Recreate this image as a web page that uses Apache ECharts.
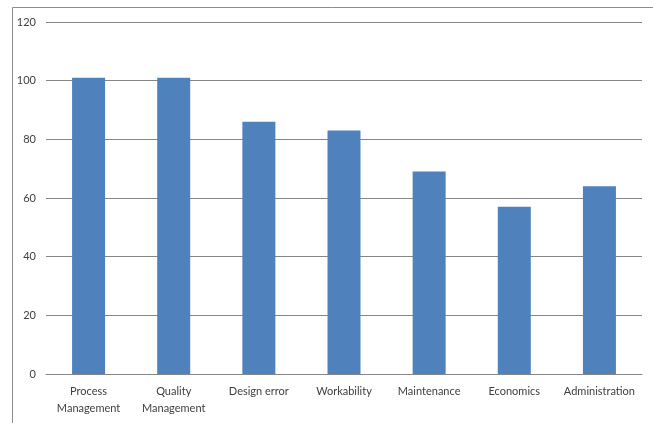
<!DOCTYPE html>
<html><head><meta charset="utf-8">
<script src="https://cdn.jsdelivr.net/npm/echarts@6/dist/echarts.min.js"></script>
<style>html,body{margin:0;padding:0;background:#fff}#c{width:653px;height:423px}</style>
</head><body><div id="c"></div>
<script>
const categories = ['Process\nManagement', 'Quality\nManagement', 'Design error', 'Workability', 'Maintenance', 'Economics', 'Administration'];
const values = [101, 101, 86, 83, 69, 57, 64];
const yTicks = [0, 20, 40, 60, 80, 100, 120];

const chart = echarts.init(document.getElementById('c'), null, {renderer: 'canvas'});
chart.setOption({
  animation: false,
  backgroundColor: '#fff',
  graphic: [{
    type: 'polyline',
    shape: {points: [[12.5, 423], [12.5, 7.5], [653, 7.5]]},
    style: {stroke: '#8c8c8c', lineWidth: 1, fill: null}
  }],
  grid: {left: 46, right: 11, top: 22, bottom: 49, containLabel: false},
  xAxis: {
    type: 'category',
    data: categories,
    axisLine: {show: true, lineStyle: {color: '#868686', width: 1}},
    axisTick: {show: false},
    axisLabel: {margin: 9, fontFamily: 'Lato', fontSize: 11, color: '#404040', lineHeight: 17, interval: 0}
  },
  yAxis: {
    type: 'value',
    min: yTicks[0], max: yTicks[yTicks.length - 1], interval: 20,
    axisLine: {show: false},
    axisTick: {show: false},
    splitLine: {lineStyle: {color: '#868686', width: 1}},
    axisLabel: {margin: 10, fontFamily: 'Lato', fontSize: 11, color: '#404040'}
  },
  series: [{
    type: 'bar',
    data: values,
    barWidth: 33,
    itemStyle: {color: '#4F81BD'}
  }]
});
</script></body></html>
